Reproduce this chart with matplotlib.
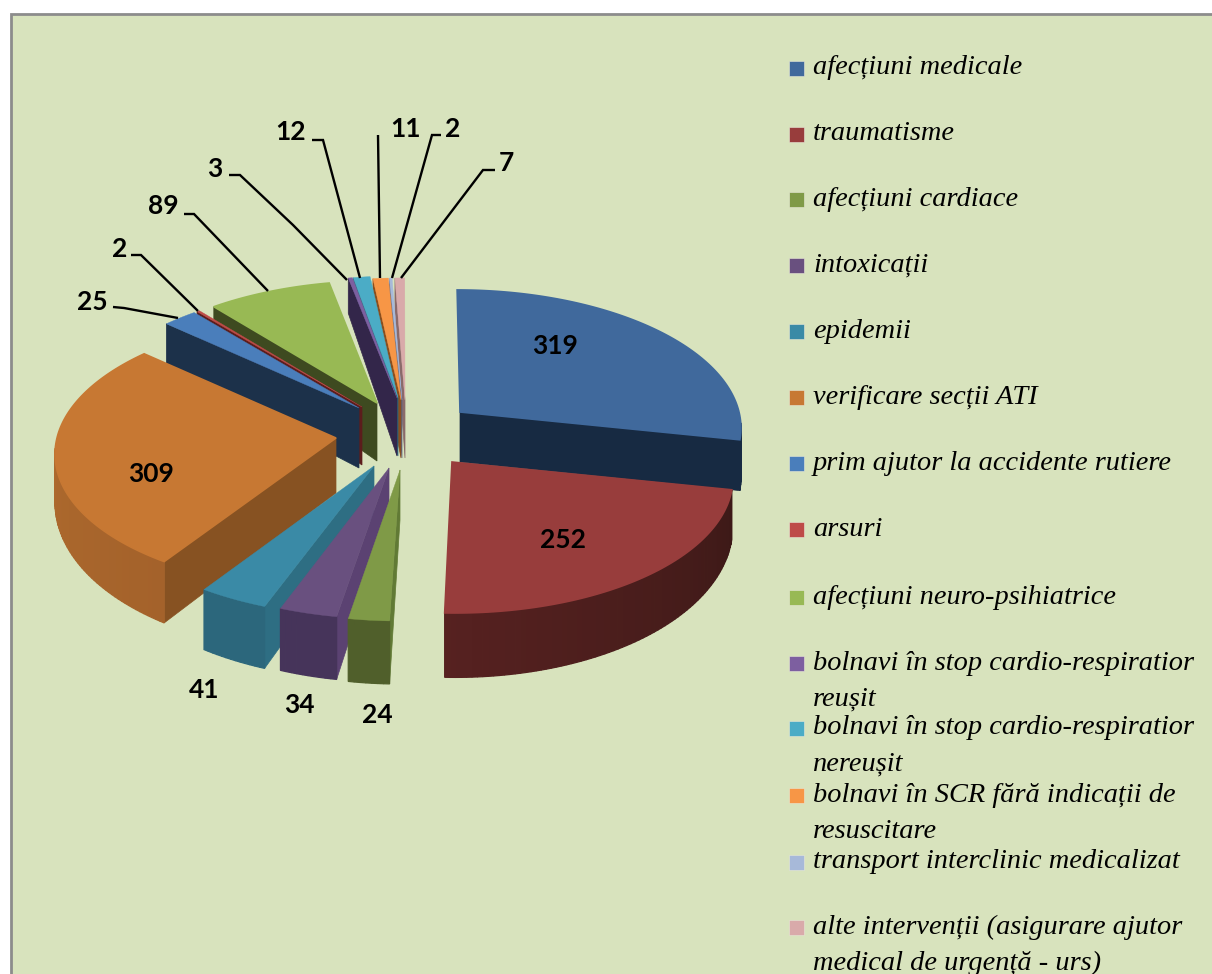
import numpy as np
import matplotlib
matplotlib.use("Agg")
from matplotlib import pyplot as plt
from matplotlib.colors import to_rgb
from matplotlib.patches import Rectangle

# date
values = [319, 252, 24, 34, 41, 309, 25, 2, 89, 3, 12, 11, 2, 7]
legend_lines = [
    ["afecțiuni medicale"],
    ["traumatisme"],
    ["afecțiuni cardiace"],
    ["intoxicații"],
    ["epidemii"],
    ["verificare secții ATI"],
    ["prim ajutor la accidente rutiere"],
    ["arsuri"],
    ["afecțiuni neuro-psihiatrice"],
    ["bolnavi în stop cardio-respiratior", "reușit"],
    ["bolnavi în stop cardio-respiratior", "nereușit"],
    ["bolnavi în SCR fără indicații de", "resuscitare"],
    ["transport interclinic medicalizat"],
    ["alte intervenții (asigurare ajutor", "medical de urgență - urs)"],
]
legend_y = [68, 134, 199, 265, 331, 397, 463, 529, 597, 663, 728, 795, 862, 927]

# culori
top_col = ["#40699c", "#983d3c", "#7f9a47", "#69507f", "#3a8aa6", "#c77833", "#4a7ebb",
           "#be4b48", "#98b954", "#7d5fa0", "#4bacc6", "#f79646", "#a7b9d9", "#d9aaaa"]
face_col = ["#172a42", "#3f1615", "#617a35", "#5b4272", "#2e6e83", "#875222", "#1c314a",
            "#5c1d1c", "#3e4a20", "#33264a", "#2a6a7f", "#8a4e1e", "#55658a", "#8a6a6a"]
arc_a = ["#172a42", "#3c1917", "#505f2b", "#46345a", "#2c677c", "#a4622b", "#1c314a",
         "#5c1d1c", "#3e4a20", "#33264a", "#2a6a7f", "#8a4e1e", "#55658a", "#8a6a6a"]
arc_b = ["#172a42", "#562120", "#505f2b", "#46345a", "#2c677c", "#b5702f", "#1c314a",
         "#5c1d1c", "#3e4a20", "#33264a", "#2a6a7f", "#8a4e1e", "#55658a", "#8a6a6a"]

# geometrie (pixeli)
cx, cy = 400, 400
rx, ry = 279, 135
persp = 0.106
explode_x = [60, 52, 0, -11, -26, -64, -41, -38, -23, -3, -2, 1, 2, 5]
explode_y = [12, 62, 70, 68, 66, 38, 8, 7, 3, -2, -2, 0, 0, 0]
depth = [47, 46, 45, 45, 45, 46, 60, 58, 58, 58, 58, 58, 58, 58]
apex_depth = [50, 50, 50, 50, 50, 55, 60, 58, 58, 58, 58, 58, 58, 58]
draw_order = [13, 12, 11, 10, 9, 8, 7, 6, 0, 5, 4, 3, 2, 1]

# etichete
labels_xy = [(555, 346), (563, 540), (377, 715), (299, 705), (204, 690), (151, 474), (92, 302),
             (120, 249), (163, 206), (215, 169), (291, 132), (405, 129), (453, 129), (506, 163)]
leaders = {
    6: [(113, 307), (124, 308), (178, 318)],
    7: [(131, 255), (141, 255), (198, 311)],
    8: [(184, 214), (194, 214), (268, 291)],
    9: [(229, 175), (240, 175), (293, 225), (347, 280)],
    10: [(312, 140), (323, 140), (360, 278)],
    11: [(378, 135), (380, 278)],
    12: [(441, 135), (432, 135), (392, 278)],
    13: [(495, 170), (483, 170), (401, 278)],
}


def project(theta, ex):
    # unghi in sens orar de la ora 12, spre coordonate ecran (fata de varf)
    X = np.sin(theta)
    Y = np.cos(theta)
    p = 1 / (1 + persp * Y)
    return X * rx * p + ex * (p - 1) * 0.5, -Y * ry * p, Y


def side_height(d, Y):
    return d * (1 - 0.4 * Y)


def mix(c1, c2, t):
    a, b = np.array(to_rgb(c1)), np.array(to_rgb(c2))
    return tuple(a + (b - a) * t)


def draw_slice(ax, i, t0, t1):
    ax0 = cx + explode_x[i]
    ay0 = cy + explode_y[i]
    th = np.linspace(t0, t1, max(int(np.degrees(t1 - t0)), 2) + 1)
    dx, dy, Y = project(th, explode_x[i])
    xs = ax0 + dx
    ys = ay0 + dy
    hs = side_height(depth[i], Y)

    # fetele radiale, doar cele vazute din fata
    show_face = {0: np.sin(t0) < 0, -1: np.sin(t1) > 0}
    for k, show in show_face.items():
        if show:
            ax.fill([ax0, xs[k], xs[k], ax0], [ay0, ys[k], ys[k] + hs[k], ay0 + apex_depth[i]],
                    color=face_col[i], lw=0.5)
    # fata curba, doar partea din fata
    n = len(th) - 1
    for k in range(n):
        if Y[k] + Y[k + 1] > -0.15:
            continue
        c = mix(arc_a[i], arc_b[i], k / max(n - 1, 1))
        ax.fill([xs[k], xs[k + 1], xs[k + 1], xs[k]],
                [ys[k], ys[k + 1], ys[k + 1] + hs[k + 1], ys[k] + hs[k]],
                color=c, lw=0.9)
    # capacul
    wide = np.degrees(t1 - t0) > 20
    ax.fill(np.r_[ax0, xs], np.r_[ay0, ys], color=top_col[i], lw=1.2 if wide else 0.3)


plt.rcParams["font.family"] = ["Lato", "DejaVu Sans"]
fig = plt.figure(figsize=(12.12, 9.74), dpi=100, facecolor="white")
ax = fig.add_axes([0, 0, 1, 1])
ax.set_xlim(0, 1212)
ax.set_ylim(974, 0)
ax.axis("off")

ax.add_patch(Rectangle((10.5, 14), 1300, 1000, facecolor="#d8e3bd", edgecolor="#8c8c8c", lw=2))

edges = np.radians(np.r_[0, np.cumsum(values)] / sum(values) * 360)
for i in draw_order:
    draw_slice(ax, i, edges[i], edges[i + 1])

for i, pts in leaders.items():
    ax.plot([p[0] for p in pts], [p[1] for p in pts], color="black", lw=1.7,
            solid_capstyle="butt", solid_joinstyle="miter")

for v, (x, y) in zip(values, labels_xy):
    ax.text(x, y, str(v), fontsize=19, fontweight="bold", color="black", ha="center", va="center")

for i, lines in enumerate(legend_lines):
    y = legend_y[i]
    ax.add_patch(Rectangle((789, y - 7.5), 15, 15, facecolor=top_col[i], edgecolor="#e8e8d8", lw=0.4))
    for j, line in enumerate(lines):
        ax.text(813, y + j * 36.5, line, fontsize=20.4, fontstyle="italic",
                family=["Liberation Serif", "DejaVu Serif"], color="black", ha="left", va="center",
                clip_on=True)

fig.savefig("out.png", dpi=100)
